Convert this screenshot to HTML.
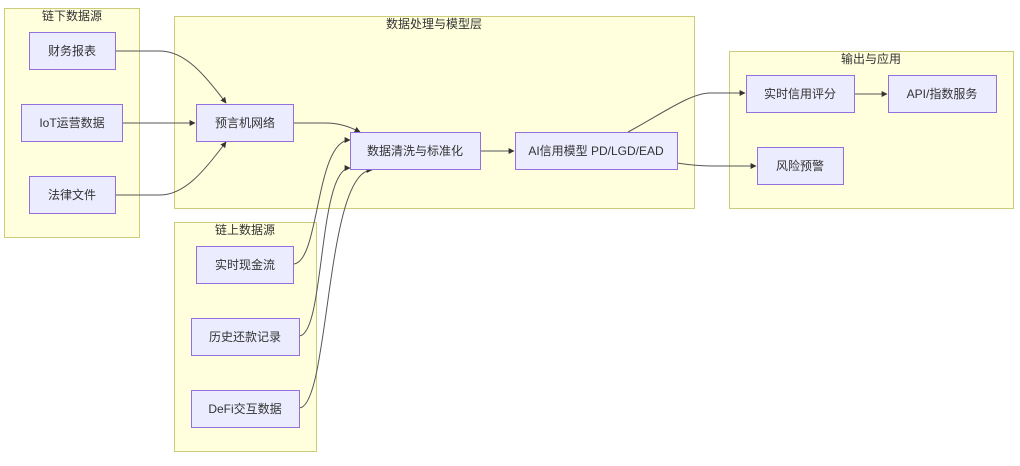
<!DOCTYPE html>
<html><head><meta charset="utf-8"><style>
body{margin:0;background:#fff;}
svg text{font-family:"Liberation Sans","Noto Sans CJK SC",sans-serif;font-size:12px;fill:#333;text-anchor:middle;dominant-baseline:central;}
.sg{fill:#ffffde;stroke:#cccc7a;stroke-width:1;}
.n{fill:#ececff;stroke:#9370db;stroke-width:1;}
.e{fill:none;stroke:#555;stroke-width:1;marker-end:url(#a);}
</style></head><body>
<svg width="1020" height="461" viewBox="0 0 1020 461" xmlns="http://www.w3.org/2000/svg">
<defs><marker id="a" viewBox="0 0 10 10" refX="9" refY="5" markerWidth="6" markerHeight="6" orient="auto"><path d="M0,0L10,5L0,10z" fill="#333"/></marker></defs>
<rect class="sg" x="4.5" y="8.5" width="135" height="229"/>
<text x="72" y="16">链下数据源</text>
<rect class="sg" x="174.5" y="16.5" width="520" height="192"/>
<text x="434" y="24">数据处理与模型层</text>
<rect class="sg" x="174.5" y="222.5" width="142" height="229"/>
<text x="245" y="230">链上数据源</text>
<rect class="sg" x="729.5" y="51.5" width="284" height="157"/>
<text x="871" y="59">输出与应用</text>

<path class="e" d="M115,51 L160,51 C185,51 205,75 226,103"/>
<path class="e" d="M122,123 L195,123"/>
<path class="e" d="M115,195 L160,195 C185,195 205,170 226,142"/>
<path class="e" d="M293,123 L325,123 C340,123 350,127 360,132"/>
<path class="e" d="M293,264 C320,264 315,140 350,140"/>
<path class="e" d="M299,336 C325,336 318,168 350,168"/>
<path class="e" d="M299,408 C330,408 325,170 372,170"/>
<path class="e" d="M480,151 L514,151"/>
<path class="e" d="M628,132 C660,115 690,93 710,93 L745,93"/>
<path class="e" d="M677,163 C690,165 700,166 720,166 L756,166"/>
<path class="e" d="M854,94 L887,94"/>

<rect class="n" x="29.5" y="32.5" width="86" height="37"/><text x="72" y="51">财务报表</text>
<rect class="n" x="21.5" y="104.5" width="101" height="37"/><text x="72" y="123">IoT运营数据</text>
<rect class="n" x="29.5" y="176.5" width="86" height="37"/><text x="72" y="195">法律文件</text>
<rect class="n" x="196.5" y="104.5" width="97" height="37"/><text x="245" y="123">预言机网络</text>
<rect class="n" x="350.5" y="132.5" width="130" height="37"/><text x="415" y="151">数据清洗与标准化</text>
<rect class="n" x="515.5" y="132.5" width="162" height="37"/><text x="596" y="151">AI信用模型 PD/LGD/EAD</text>
<rect class="n" x="746.5" y="75.5" width="108" height="37"/><text x="800" y="94">实时信用评分</text>
<rect class="n" x="888.5" y="75.5" width="108" height="37"/><text x="942" y="94">API/指数服务</text>
<rect class="n" x="757.5" y="147.5" width="86" height="37"/><text x="800" y="166">风险预警</text>
<rect class="n" x="196.5" y="246.5" width="97" height="37"/><text x="245" y="265">实时现金流</text>
<rect class="n" x="191.5" y="318.5" width="108" height="37"/><text x="245" y="337">历史还款记录</text>
<rect class="n" x="191.5" y="390.5" width="108" height="37"/><text x="245" y="409">DeFi交互数据</text>
</svg>
</body></html>
